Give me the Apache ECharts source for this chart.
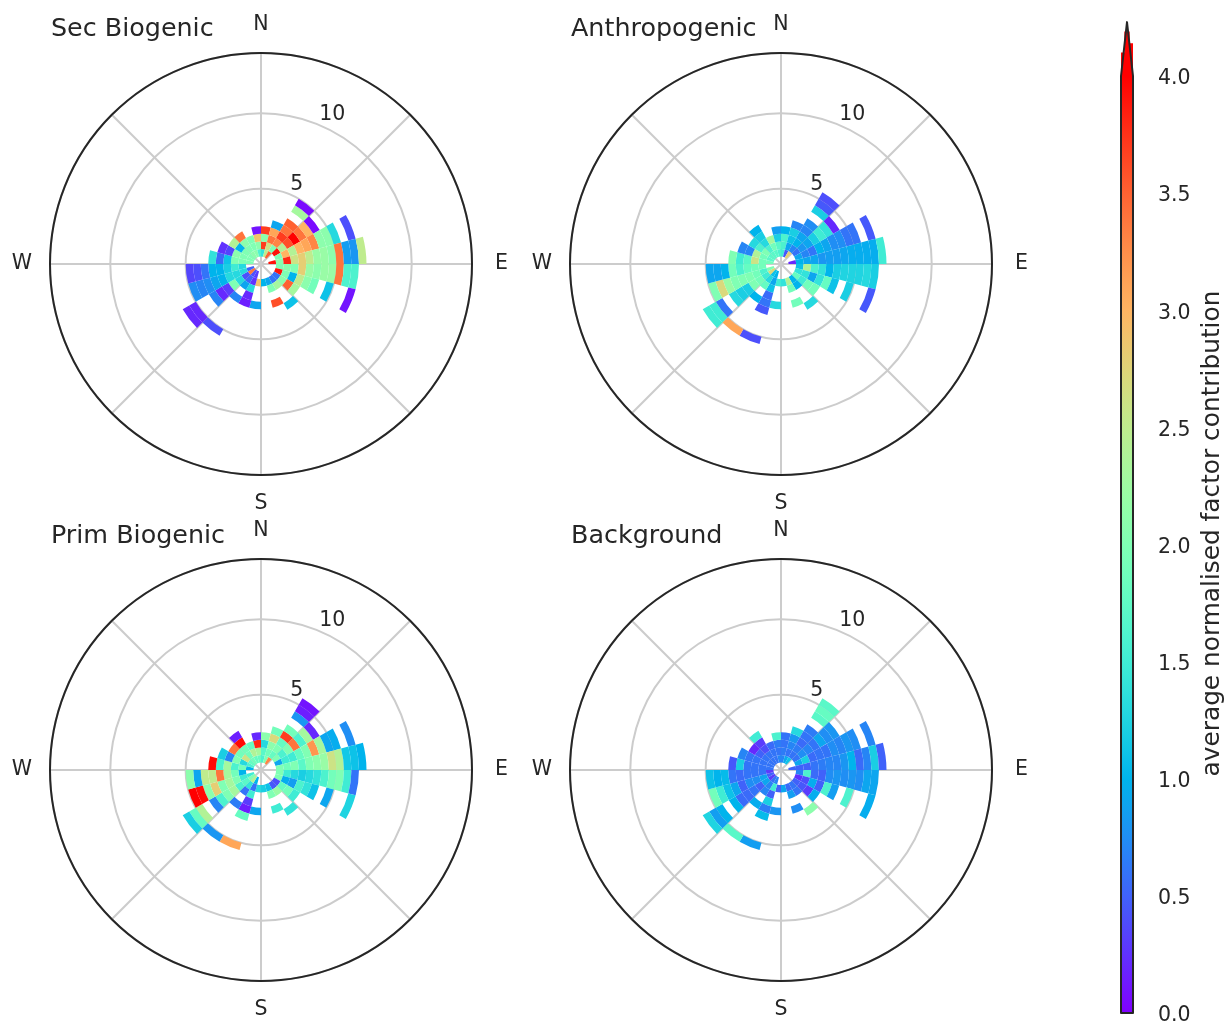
<!DOCTYPE html>
<html>
<head>
<meta charset="utf-8">
<style>
  html, body { margin: 0; padding: 0; background: #fff; }
  #chart { width: 1227px; height: 1023px; }
</style>
<script src="https://cdn.jsdelivr.net/npm/echarts@6/dist/echarts.min.js"></script>
</head>
<body>
<div id="chart"></div>
<script>
const _ = null;

const panelTitles = ['Sec Biogenic', 'Anthropogenic', 'Prim Biogenic', 'Background'];
const compass = { 0: '{n|N}', 90: '{e|E}', 180: '{n|S}', 270: '{n|W}' };
const radialTicks = [5, 10];
const colorbarTicks = [0, 4];
// top of the colorbar's extend arrow: the outline and the stepped red fill under it
const extendTip = [0.5, 4.23];
const extendSteps = [[0, 4], [0, 4.1], [0.28, 4.1], [0.28, 4.19], [0.72, 4.19], [0.72, 4.14], [1, 4.14], [1, 4]];

// rows = 15 degree sectors clockwise from N, columns = 0.5 wide wind speed bins
const secBiogenic = [
  [_,1.4,3.7,2.1,3.7],
  [_,2.5,2.6,3.4,3.1,.9],
  [_,3.5,2.0,3.3,3.7,3.4,3.5,_,2.3,.05],
  [_,_,3.9,2.4,3.6,4.0,3.4,3.0,.05],
  [_,_,2.0,3.0,2.4,3.0,3.1,3.3,2.1,2.1,1.3,_,.4],
  [_,3.9,2.1,3.8,2.6,2.8,2.5,2.2,2.2,2.1,3.4,.85,.8,2.5],
  [_,_,2.0,2.1,2.0,2.8,2.2,2.1,2.2,2.2,3.4,1.6,1.6],
  [_,_,3.9,2.0,1.0,2.5,2.1,1.9,_,1.1,_,_,.1],
  [_,_,.6,2.1,3.5,2.3],
  [_,_,.6,2.3,_,_,1.1],
  [_,_,.9,2.0,_,3.6],
  [_,_,1.0],
  [_,_,2.9,_,_,.9],
  [_,.3,.25,1.3,.2,.15],
  [_,.4,.5,.9,_,.7,_,_,_,_,.4],
  [_,3.4,.4,1.3,2.0,.3,.2,.7,_,_,.2,.2],
  [_,.5,1.3,1.3,1.3,1.0,.9,.75,.7,.75],
  [_,_,1.3,1.5,1.2,1.0,1.0,.6,.4,.35],
  [_,2.0,2.0,2.0,1.1,.55,1.4],
  [_,2.0,2.0,2.1,.35,.25],
  [_,2.0,2.0,1.0,2.4],
  [_,2.1,2.0,2.1,3.4],
  [_,2.1,2.0,2.0],
  [_,1.6,2.1,2.9,.1]
];

const anthropogenic = [
  [_,1.5,1.6,1.6,1.0],
  [_,.45,.9,1.1,1.2,.7],
  [_,2.8,.7,1.0,.9,.7,.75,_,1.2,.45,.4],
  [_,_,.6,.8,.9,1.2,1.5,1.4,.2],
  [_,_,.9,.7,.6,1.0,.9,.75,.75,.6,.6,_,.45],
  [_,.2,1.0,.9,.9,.8,.85,.85,.9,.95,.95,.95,.95,1.5],
  [_,_,1.1,2.4,1.6,1.4,1.0,1.2,1.25,1.25,1.25,1.3,1.2],
  [_,_,1.4,1.4,.9,1.4,1.8,1.1,_,1.2,_,_,.45],
  [_,_,1.8,1.5,1.9,1.9],
  [_,_,1.0,1.0,_,_,1.3],
  [_,_,2.4,1.9,_,1.9],
  [_,_,1.4],
  [_,_,1.5,_,_,1.3],
  [_,1.0,.9,1.1,.55,.6,.45,_,_,_,.4],
  [_,1.1,1.3,1.8,_,1.0,_,_,_,_,3.1],
  [_,2.7,1.5,1.9,2.0,1.2,1.2,1.3,_,.6,1.5,1.5],
  [_,2.0,1.6,1.9,2.0,2.0,2.0,2.2,2.7,2.0],
  [_,_,1.9,1.9,1.8,1.6,1.9,1.0,.9,.9],
  [_,1.9,1.9,2.6,1.7,1.5,2.0],
  [_,1.7,1.9,2.4,.7,.7],
  [_,1.7,2.0,1.6,1.3],
  [_,1.7,1.6,1.3,1.2,1.0],
  [_,1.7,1.9,2.3],
  [_,1.6,1.7,1.2,.85]
];

const primBiogenic = [
  [_,1.6,1.7,1.3,2.1],
  [_,2.0,1.9,2.1,2.7,1.9],
  [_,3.3,1.8,2.0,1.8,3.7,1.9,_,.8,.15,.1],
  [_,_,2.0,1.6,2.0,3.4,1.6,2.3,.2],
  [_,_,.9,1.5,1.5,1.8,2.0,3.2,2.3,.9,.95,_,.75],
  [_,_,2.0,1.9,2.0,1.7,2.0,2.1,2.2,2.6,2.4,1.15,1.1,1.0],
  [_,_,2.0,1.5,1.3,1.2,1.3,1.4,1.6,1.9,2.0,1.5,.6],
  [_,_,2.0,.95,.85,1.6,1.4,1.1,_,.9,_,_,1.25],
  [_,_,.4,1.8,1.9,1.5],
  [_,_,.45,2.2,_,_,1.4],
  [_,_,1.1,2.0,_,1.5],
  [_,_,1.2],
  [_,_,1.3,_,_,.9],
  [_,1.0,.6,1.5,.3,.15,1.8,_,_,_,3.1],
  [_,2.4,1.4,.6,_,.65,_,_,_,_,.8],
  [_,2.0,1.7,1.6,2.3,2.0,1.6,.7,_,2.4,1.8,1.2],
  [_,1.5,1.5,2.0,2.3,2.0,2.8,2.1,3.95,4.0],
  [_,_,1.0,1.9,2.3,3.4,2.5,2.5,.9,2.1],
  [_,1.0,1.9,1.6,2.3,1.6,3.95],
  [_,1.6,1.3,2.0,.7,1.2],
  [_,1.8,2.6,1.9,3.4],
  [_,1.9,1.9,1.9,3.95,.15],
  [_,1.8,2.4,1.8],
  [_,1.8,2.3,3.8,.2]
];

const background = [
  [_,.7,.65,.6,.6],
  [_,.9,.6,.7,.8,1.3],
  [_,1.1,.6,.65,.55,.6,.65,_,1.7,1.8,1.7],
  [_,_,.6,.75,.7,.6,.9,.75,.8],
  [_,_,.9,1.2,.55,.6,.6,.75,.7,.8,.75,_,.7],
  [_,.5,.5,.5,.6,.65,.7,.7,.8,1.0,.55,.7,1.2,.5],
  [_,_,.7,1.6,.55,.5,.75,.8,.75,.8,.75,.9,.9],
  [_,_,.25,.4,.95,.5,1.6,.85,_,1.6,_,_,.95],
  [_,_,.5,.45,.3,.95],
  [_,_,.6,.6,_,_,2.1],
  [_,_,.55,.85,_,.75],
  [_,_,.9],
  [_,_,.5,_,_,.8],
  [_,.7,1.5,.5,1.2,.65,1.05,_,_,_,.85],
  [_,.6,.7,.7,_,.95,_,_,_,_,1.7],
  [_,.3,.9,.5,.6,.55,.55,1.0,_,1.0,.85,1.25],
  [_,.5,.9,.75,.75,.5,.9,1.1,1.5,1.9],
  [_,.3,.6,.6,.6,.55,.6,1.05,1.0,1.1],
  [_,.6,.6,.6,.6,1.2,.45],
  [_,.6,.6,.6,.6,.7],
  [_,.6,.6,.5,.2],
  [_,.6,.6,.4,.3,1.5],
  [_,.6,.6,.55],
  [_,.7,.6,.65,1.6]
];

const panelRows = [secBiogenic, anthropogenic, primBiogenic, background];
const centers = [[261, 264], [781, 264], [261, 770], [781, 770]];
const titlePos = [[51, 17], [571, 17], [51, 524], [571, 524]];

const SECTOR = 15;
const BIN = 0.5;
const TEXT = '#262626';
const FONT = '"DejaVu Sans"';

// matplotlib rainbow
function rainbow(x) {
  const hex = v => Math.round(Math.max(0, Math.min(1, v)) * 255).toString(16).padStart(2, '0');
  return '#' + hex(Math.abs(2 * x - 0.5)) + hex(Math.sin(Math.PI * x)) + hex(Math.cos(Math.PI * x / 2));
}
const ramp = [];
for (let k = 0; k <= 32; k++) ramp.push(rainbow(k / 32));

function toCells(rows) {
  const out = [];
  rows.forEach((row, i) => {
    row.forEach((v, j) => {
      if (v !== null) out.push([j * BIN, i * SECTOR, v]);
    });
  });
  return out;
}

function renderCell(params, api) {
  const a = api.coord([api.value(0), api.value(1)]);
  const b = api.coord([api.value(0) + BIN, api.value(1) + SECTOR]);
  return {
    type: 'sector',
    shape: {
      cx: params.coordSys.cx,
      cy: params.coordSys.cy,
      r0: a[2],
      r: b[2],
      startAngle: -a[3],
      endAngle: -b[3],
      clockwise: true
    },
    style: { fill: api.visual('color') }
  };
}

function renderColorbar(params, api) {
  const lo = api.coord([0, colorbarTicks[0]]);
  const hi = api.coord([1, colorbarTicks[1]]);
  const tip = api.coord(extendTip);
  const stops = ramp.map((c, k) => ({ offset: k / (ramp.length - 1), color: c }));
  return {
    type: 'group',
    children: [
      {
        type: 'rect',
        shape: { x: lo[0], y: hi[1], width: hi[0] - lo[0], height: lo[1] - hi[1] },
        style: { fill: new echarts.graphic.LinearGradient(0, 1, 0, 0, stops) }
      },
      {
        type: 'polygon',
        shape: { points: extendSteps.map(p => api.coord(p)) },
        style: { fill: '#ff0000' }
      },
      {
        type: 'polygon',
        shape: { points: [[lo[0], lo[1]], [lo[0], hi[1]], tip, [hi[0], hi[1]], [hi[0], lo[1]]] },
        style: { fill: null, stroke: TEXT, lineWidth: 2, lineJoin: 'round' }
      }
    ]
  };
}

const polar = [], angleAxis = [], radiusAxis = [], series = [], title = [];

panelRows.forEach((rows, k) => {
  polar.push({ center: centers[k], radius: 211 });
  angleAxis.push({
    polarIndex: k,
    type: 'value',
    min: 0,
    max: 360,
    interval: 45,
    startAngle: 90,
    axisLine: { lineStyle: { color: TEXT, width: 2 } },
    axisTick: { show: false },
    splitLine: { lineStyle: { color: '#cccccc', width: 2 } },
    axisLabel: {
      margin: 18,
      color: TEXT,
      fontSize: 20.5,
      fontFamily: FONT,
      formatter: v => compass[v] || '',
      rich: {
        n: { color: TEXT, fontSize: 20.5, fontFamily: FONT },
        e: { color: TEXT, fontSize: 20.5, fontFamily: FONT, padding: [0, 0, 0, 5] }
      }
    }
  });
  radiusAxis.push({
    polarIndex: k,
    type: 'value',
    min: 0,
    max: 14,
    interval: 5,
    axisLine: { show: false },
    axisTick: { show: false },
    axisLabel: { show: false },
    splitLine: { lineStyle: { color: '#cccccc', width: 2 } }
  });
  title.push({
    text: panelTitles[k],
    left: titlePos[k][0],
    top: titlePos[k][1],
    padding: 0,
    textStyle: { color: TEXT, fontSize: 25.4, fontWeight: 'normal', fontFamily: FONT }
  });
  series.push({
    type: 'custom',
    coordinateSystem: 'polar',
    polarIndex: k,
    renderItem: renderCell,
    data: toCells(rows)
  });
  series.push({
    type: 'scatter',
    coordinateSystem: 'polar',
    polarIndex: k,
    symbolSize: 1,
    itemStyle: { color: 'transparent', opacity: 1 },
    label: {
      show: true,
      position: 'right',
      distance: 0,
      offset: [0, -10],
      color: TEXT,
      fontSize: 20.5,
      fontFamily: FONT,
      formatter: p => String(p.value[0])
    },
    data: radialTicks.map(r => [r, 22.5])
  });
});

series.push({
  type: 'custom',
  coordinateSystem: 'cartesian2d',
  renderItem: renderColorbar,
  clip: false,
  z: 5,
  data: [[0, 0]]
});

const chart = echarts.init(document.getElementById('chart'));
chart.setOption({
  animation: false,
  backgroundColor: '#ffffff',
  title,
  polar,
  angleAxis,
  radiusAxis,
  visualMap: {
    show: false,
    min: colorbarTicks[0],
    max: colorbarTicks[1],
    dimension: 2,
    seriesIndex: [0, 2, 4, 6],
    inRange: { color: ramp }
  },
  grid: { left: 1121, top: 76, width: 12, height: 937, outerBoundsMode: 'none' },
  xAxis: { type: 'value', min: 0, max: 1, show: false },
  yAxis: {
    type: 'value',
    position: 'right',
    min: colorbarTicks[0],
    max: colorbarTicks[1],
    interval: 0.5,
    splitLine: { show: false },
    axisLine: { show: false },
    axisTick: { show: true, length: 9, lineStyle: { color: TEXT, width: 2 } },
    axisLabel: {
      margin: 25,
      color: TEXT,
      fontSize: 20.5,
      fontFamily: FONT,
      formatter: v => `{t|${v.toFixed(1)}}`,
      rich: {
        t: { color: TEXT, fontSize: 20.5, fontFamily: FONT, padding: [6, 0, 0, 0] }
      }
    },
    name: 'average normalised factor contribution',
    nameLocation: 'middle',
    nameRotate: 90,
    nameGap: 67,
    nameTextStyle: { color: TEXT, fontSize: 24.8, fontFamily: FONT, padding: [0, 0, 0, 22] }
  },
  series
});
</script>
</body>
</html>
